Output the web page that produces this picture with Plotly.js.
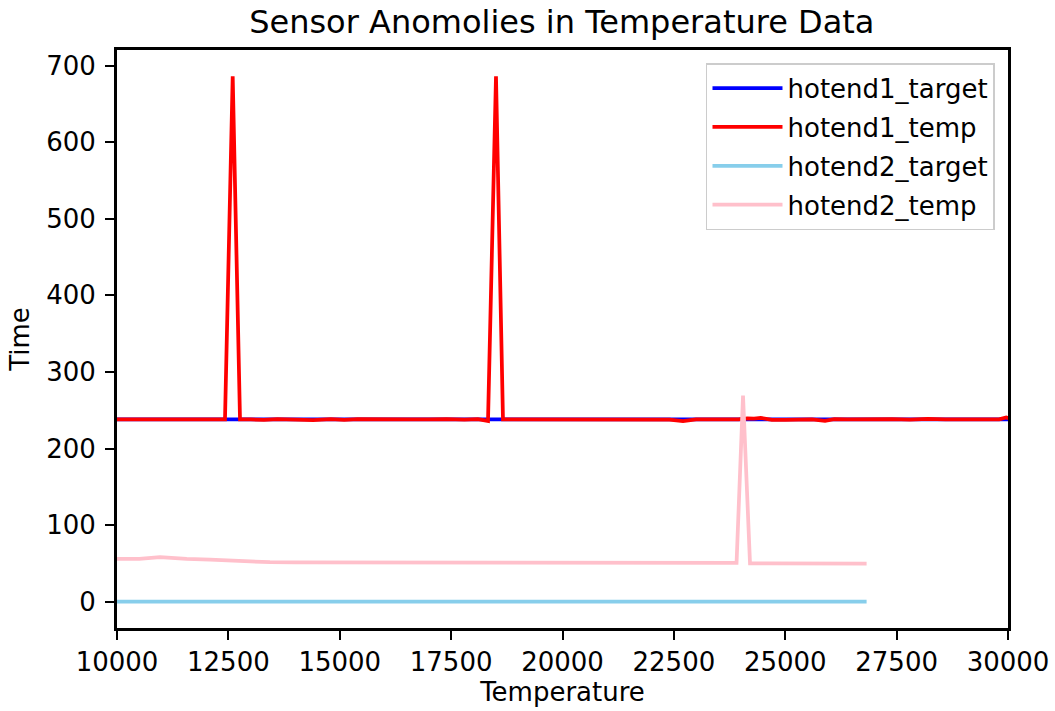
<!DOCTYPE html>
<html>
<head>
<meta charset="utf-8">
<script src="https://cdn.plot.ly/plotly-3.0.1.min.js"></script>
<style>
  html, body { margin: 0; padding: 0; background: #ffffff; }
  #chart { width: 1055px; height: 711px; }
</style>
</head>
<body>
<div id="chart"></div>
<script>
// ---- Data ----
const seriesNames = ["hotend1_target", "hotend1_temp", "hotend2_target", "hotend2_temp"];

const hotend1TargetX = [9900, 12000, 14000, 16000, 18000, 20000, 22000, 24000, 26000, 28000, 30100];
const hotend1TargetY = [238, 238, 238, 238, 238, 238, 238, 238, 238, 238, 238];

const hotend1TempX = [9900, 10500, 11000, 11650, 12000, 12424, 12597, 12761, 13000, 13300, 13600, 14000, 14400, 14800, 15100, 15400, 15800, 16200, 16600, 17000, 17400, 17800, 18100, 18328, 18507, 18664, 19000, 19300, 19700, 20000, 20300, 20700, 21000, 21400, 21800, 22100, 22400, 22705, 23000, 23400, 23700, 23950, 24150, 24300, 24450, 24700, 25000, 25300, 25600, 25892, 26100, 26400, 26700, 27000, 27400, 27800, 28200, 28600, 29000, 29400, 29800, 29960, 30100];
const hotend1TempY = [238, 238, 238, 238.8, 238, 238, 686, 238, 238, 237.5, 238.5, 238, 237.2, 238.5, 237.5, 238.5, 238, 238.6, 238, 238, 238.5, 237.6, 238.5, 236, 686, 238, 238, 237.5, 238.5, 238, 237.5, 238.2, 237.6, 238.5, 238, 238.2, 237.8, 235.8, 238, 238, 238.4, 238, 239.5, 239, 240, 237.5, 237.5, 238, 238.2, 236, 238.5, 238, 238.5, 238, 238.5, 237.6, 238.6, 238, 238, 238.5, 238, 240.5, 238];

const hotend2TargetX = [9900, 12000, 14000, 16000, 18000, 20000, 22000, 24000, 26000, 26826];
const hotend2TargetY = [0, 0, 0, 0, 0, 0, 0, 0, 0, 0];

const hotend2TempX = [9900, 10500, 10965, 11564, 12088, 12687, 13434, 14000, 15000, 16000, 17000, 18000, 19000, 20000, 21000, 22000, 23000, 23907, 24052, 24209, 24600, 25000, 25500, 26000, 26400, 26826];
const hotend2TempY = [55.8, 55.8, 58.3, 55.8, 55, 53, 51.6, 51.3, 51.3, 51.2, 51.1, 51, 51, 50.9, 50.9, 50.8, 50.8, 50.8, 269, 50.2, 50, 49.8, 50.1, 50.3, 50, 49.9];

const xTickVals = [10000, 12500, 15000, 17500, 20000, 22500, 25000, 27500, 30000];
const yTickVals = [0, 100, 200, 300, 400, 500, 600, 700];

const colors = ["#0000ff", "#ff0000", "#87ceeb", "#ffc0cb"];

const xs = [hotend1TargetX, hotend1TempX, hotend2TargetX, hotend2TempX];
const ys = [hotend1TargetY, hotend1TempY, hotend2TargetY, hotend2TempY];

const FONT = "DejaVu Sans, Verdana, sans-serif";

const traces = seriesNames.map((name, i) => ({
  type: "scatter",
  mode: "lines",
  name: name,
  x: xs[i],
  y: ys[i],
  line: { color: colors[i], width: 3.75 },
  legendgroup: name
}));

const layout = {
  width: 1055,
  height: 711,
  paper_bgcolor: "#ffffff",
  plot_bgcolor: "#ffffff",
  margin: { l: 117, r: 47, t: 50, b: 83, pad: 0 },
  font: { family: FONT, size: 26, color: "#000000" },
  title: {
    text: "Sensor Anomolies in Temperature Data",
    font: { family: FONT, size: 32, color: "#000000" },
    x: 0.5325, xref: "container", xanchor: "center",
    y: 1 - 22 / 711, yref: "container", yanchor: "middle"
  },
  xaxis: {
    range: [10000, 30000],
    tickvals: xTickVals,
    tickformat: "d",
    ticks: "outside", ticklen: 9, tickwidth: 2, tickcolor: "#000000",
    showline: true, linecolor: "#000000", linewidth: 3, mirror: true,
    showgrid: false, zeroline: false,
    tickfont: { family: FONT, size: 26, color: "#000000" },
    title: { text: "Temperature", font: { family: FONT, size: 26, color: "#000000" }, standoff: 6 },
    automargin: false
  },
  yaxis: {
    range: [-34.3, 720.3],
    tickvals: yTickVals,
    tickformat: "d",
    ticks: "outside", ticklen: 9, tickwidth: 2, tickcolor: "#000000",
    showline: true, linecolor: "#000000", linewidth: 3, mirror: true,
    showgrid: false, zeroline: false,
    tickfont: { family: FONT, size: 26, color: "#000000" },
    ticklabelstandoff: 4,
    title: { text: "Time", font: { family: FONT, size: 26, color: "#000000" }, standoff: 10 },
    automargin: false
  },
  showlegend: true,
  legend: {
    x: 0.9854, xanchor: "right", xref: "paper",
    y: 0.977, yanchor: "top", yref: "paper",
    bgcolor: "rgba(255,255,255,0.8)",
    bordercolor: "#cccccc", borderwidth: 1.5,
    font: { family: FONT, size: 26, color: "#000000" },
    traceorder: "grouped",
    tracegroupgap: 2,
    itemwidth: 70
  }
};

Plotly.newPlot("chart", traces, layout, { displayModeBar: false, staticPlot: true });
</script>
</body>
</html>
